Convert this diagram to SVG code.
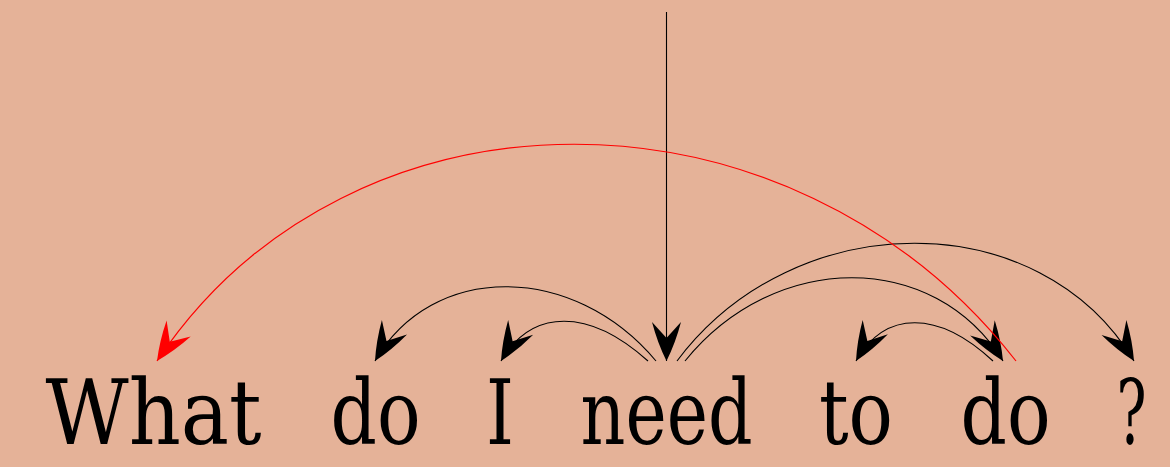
<svg xmlns="http://www.w3.org/2000/svg" width="1170" height="467" viewBox="0 0 1170 467">
<style>
.w{font-family:"DejaVu Serif","Liberation Serif",serif;font-size:89px;fill:#000;text-anchor:middle}
.e{fill:none;stroke:#000;stroke-width:1.1}
.r{fill:none;stroke:#ff0000;stroke-width:1.2}
</style>
<defs>
<marker id="ah" markerUnits="userSpaceOnUse" markerWidth="44" markerHeight="34" viewBox="-42 -17 44 34" refX="0" refY="0" orient="auto">
<path d="M0,0 Q-18,-9 -39,-14.5 L-23,0 L-39,14.5 Q-18,9 0,0 Z" fill="#000"/>
</marker>
<marker id="ahr" markerUnits="userSpaceOnUse" markerWidth="44" markerHeight="34" viewBox="-42 -17 44 34" refX="0" refY="0" orient="auto">
<path d="M0,0 Q-18,-9 -39,-14.5 L-23,0 L-39,14.5 Q-18,9 0,0 Z" fill="#ff0000"/>
</marker>
</defs>
<rect x="0" y="0" width="1170" height="467" fill="#E5B298"/>
<g id="connectors">
<path class="e" d="M666.5,12 L666.5,361" marker-end="url(#ah)"/>
<path class="e" d="M648,361 C589,308 532,308 501,361" marker-end="url(#ah)"/>
<path class="e" d="M656,361 C573,262 432,262 375,361" marker-end="url(#ah)"/>
<path class="e" d="M685,361 C775,250 934,250 1003,361" marker-end="url(#ah)"/>
<path class="e" d="M677,361 C795,204 1040,204 1134,361" marker-end="url(#ah)"/>
<path class="e" d="M993,361 C938,310 885,310 856,361" marker-end="url(#ah)"/>
<path class="r" d="M1016,361 C790,72 350,72 157,361" marker-end="url(#ahr)"/>
</g>
<g id="w1"><text class="w" x="153.5" y="444" textLength="216" lengthAdjust="spacingAndGlyphs">What</text></g>
<g id="w2"><text class="w" x="375.5" y="444" textLength="90" lengthAdjust="spacingAndGlyphs">do</text></g>
<g id="w3"><text class="w" x="500" y="444" textLength="28" lengthAdjust="spacingAndGlyphs">I</text></g>
<g id="w4"><text class="w" x="666.5" y="444" textLength="172" lengthAdjust="spacingAndGlyphs">need</text></g>
<g id="w5"><text class="w" x="856" y="444" textLength="74" lengthAdjust="spacingAndGlyphs">to</text></g>
<g id="w6"><text class="w" x="1005.5" y="444" textLength="90" lengthAdjust="spacingAndGlyphs">do</text></g>
<g id="w7"><text class="w" x="1131.5" y="444" textLength="30" lengthAdjust="spacingAndGlyphs">?</text></g>
</svg>
